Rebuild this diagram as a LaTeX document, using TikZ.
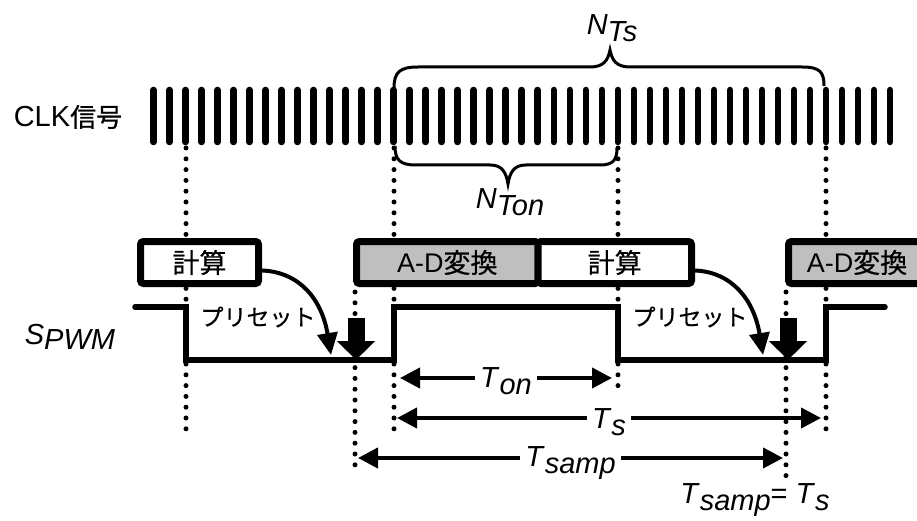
\documentclass[tikz,border=0pt]{standalone}
\usepackage{fontspec}
\setmainfont{Liberation Sans}
\newfontfamily\jp[FakeBold=0.6]{Noto Sans CJK JP}
\usepackage{tikz}
\usetikzlibrary{arrows.meta}

% italic symbol followed by a lowered index, as the figure prints it
\newcommand{\lowsym}[3][7pt]{\textit{#2}\raisebox{-#1}{\textit{#3}}}

\begin{document}
\begin{tikzpicture}[x=1pt, y=-1pt,
    every node/.style={font=\fontsize{29}{34}\selectfont, inner sep=1pt},
    box/.style={draw, line width=7pt, rounded corners=3pt, fill=white, inner sep=0pt,
                minimum height=42pt, font=\fontsize{27}{32}\selectfont\jp},
    adbox/.style={box, fill=black!25},
    jtext/.style={font=\fontsize{23}{28}\selectfont\jp},
    clk/.style={line width=6.5pt, line cap=round},
    guide/.style={line width=5pt, line cap=round, dash pattern=on 0pt off 10.8pt},
    pwm/.style={line width=5.5pt, line cap=round},
    brace/.style={line width=3pt},
    span/.style={line width=4pt, {Triangle[width=20pt,length=20pt]}-{Triangle[width=20pt,length=20pt]}},
    preset/.style={line width=4pt, -{Triangle[width=20pt,length=22pt]}},
    sample/.style={line width=17pt, -{Triangle[width=37pt,length=19pt]}},
    tlabel/.style={fill=white, inner xsep=5pt, inner ysep=1pt}]

    \useasboundingbox (0,0) rectangle (917,521);
    \clip (0,0) rectangle (917,521);

    % Clock signal
    \node (clklabel) at (68,117) {CLK{\jp\fontsize{26}{30}\selectfont 信号}};
    \foreach \i in {0,...,46}
        \draw[clk] (153.5+16.01*\i, 90) -- ++(0,52);

    % Braces counting the clock pulses
    \draw[brace] (394,88) .. controls (394,72) and (400,67) .. (418,67) -- (590,67)
        .. controls (604,67) and (608,60) .. (610,50)
        .. controls (612,60) and (616,67) .. (630,67) -- (802,67)
        .. controls (820,67) and (824,72) .. (824,86);
    \node (nts) at (612,28) {\lowsym{N}{Ts}};

    \draw[brace] (395,146) .. controls (395,160) and (400,165) .. (416,165) -- (490,165)
        .. controls (502,165) and (506,172) .. (508,184)
        .. controls (510,172) and (514,165) .. (526,165) -- (600,165)
        .. controls (613,165) and (617,160) .. (617,148);
    \node (nton) at (510,202) {\lowsym{N}{Ton}};

    % Dotted guide lines
    \foreach \gx/\gt/\gb in {186/148/437, 394/148/437, 618/148/387, 826/148/437, 355/292/468, 786/292/477}
        \draw[guide] (\gx,\gt) -- (\gx,\gb);

    % Processing boxes
    \node[box, minimum width=118pt] (calcA) at (199.5,262.5) {計算};
    \node[adbox, minimum width=181.5pt] (convA) at (447.25,262.5) {\textrm{A-D}変換};
    \node[box, minimum width=153.5pt] (calcB) at (614.75,262.5) {計算};
    \node[adbox, minimum width=137pt] (convB) at (857,262.5) {\textrm{A-D}変換};

    % PWM output
    \node (pwmlabel) at (70,337) {\lowsym[5pt]{S}{PWM}};
    \draw[pwm] (135,307) -- (186,307) -- (186,360) -- (394,360) -- (394,307)
        -- (618,307) -- (618,360) -- (826,360) -- (826,307) -- (885,307);

    % Preset arrows
    \coordinate (tipA) at (331,355);
    \coordinate (tipB) at (763,355);
    \draw[preset] ([yshift=-8pt]calcA.east) .. controls (300,272) and (322,300) .. (tipA);
    \draw[preset] ([yshift=-8pt]calcB.east) .. controls (732,272) and (754,300) .. (tipB);
    \node[jtext] (presetA) at (258,317) {プリセット};
    \node[jtext] (presetB) at (690,317) {プリセット};

    % Sampling instants
    \coordinate (sampAtop) at (356,318);
    \coordinate (sampA) at (356,360);
    \coordinate (sampBtop) at (788,318);
    \coordinate (sampB) at (788,360);
    \draw[sample] (sampAtop) -- (sampA);
    \draw[sample] (sampBtop) -- (sampB);

    % Time spans
    \coordinate (onL) at (400,378);
    \coordinate (onR) at (612,378);
    \coordinate (tsL) at (397,418);
    \coordinate (tsR) at (821,418);
    \coordinate (smL) at (358,458);
    \coordinate (smR) at (783,458);
    \draw[span] (onL) -- node[tlabel, yshift=-3pt] {\lowsym{T}{on}} (onR);
    \draw[span] (tsL) -- node[tlabel, yshift=-4pt] {\lowsym{T}{s}} (tsR);
    \draw[span] (smL) -- node[tlabel, yshift=-5pt] {\lowsym{T}{samp}} (smR);
    \node (equal) at (755,500) {\lowsym{T}{samp}= \lowsym{T}{s}};

\end{tikzpicture}
\end{document}
